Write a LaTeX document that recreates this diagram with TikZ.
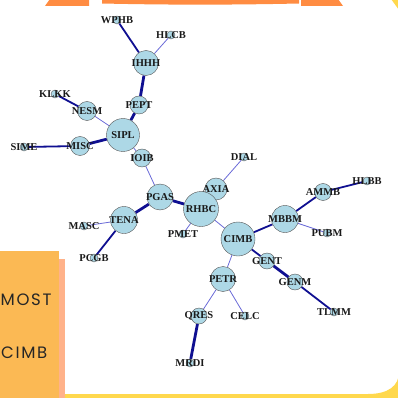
\documentclass[tikz,border=0pt]{standalone}
\usepackage{fontspec}
\setmainfont{Liberation Serif}
\newfontfamily\bannerfont{Poppins}[LetterSpace=10]
\usetikzlibrary{backgrounds}

\definecolor{nodefill}{RGB}{173,216,230}
\definecolor{nodeline}{RGB}{85,85,85}
\definecolor{strongline}{RGB}{15,15,145}
\definecolor{weakline}{RGB}{105,105,215}
\definecolor{topband}{RGB}{255,140,66}
\definecolor{boxorange}{RGB}{251,185,84}
\definecolor{boxshade}{RGB}{255,178,138}
\definecolor{corneryellow}{RGB}{255,216,77}

\begin{document}
\begin{tikzpicture}[x=1pt, y=-1pt,
    stock/.style={circle, draw=nodeline, fill=nodefill, inner sep=0pt, minimum size=#1},
    tag/.style={font=\fontsize{10.5}{11}\selectfont\bfseries, text=black!90, inner sep=0pt},
    weak/.style={weakline, line width=0.8pt},
    medium/.style={strongline, line width=1.8pt},
    strong/.style={strongline, line width=2.8pt}]
    \useasboundingbox (0,0) rectangle (398,398);

    % page decoration
    \fill[topband] (45,6) -- (50,-1) -- (89,-1) -- (89,6) -- cycle;
    \fill[topband] (102,-1) -- (299,-1) -- (299,3.5) .. controls (230,5) and (170,5) .. (102,3.5) -- cycle;
    \fill[topband] (301,-1) -- (338,-1) -- (343,6) -- (301,6) -- cycle;
    \fill[corneryellow] (391,-1) -- (399,-1) -- (399,10) -- cycle;
    \fill[corneryellow] (65,394) rectangle (399,399);
    \fill[corneryellow] (399,372) .. controls (399,386) and (388,394) .. (368,394) -- (368,399) -- (399,399) -- cycle;
    \fill[boxshade] (59,259) rectangle (65,399);
    \fill[boxorange] (-1,251) rectangle (59,399);
    \node[anchor=west, text=black!85, inner sep=0pt] (most) at (0.5,300) {\fontsize{16.5}{18}\bannerfont MOST};
    \node[anchor=west, text=black!85, inner sep=0pt] (cimbtxt) at (1,353) {\fontsize{16.5}{18}\bannerfont CIMB};

    % stocks
    \node[stock=8,  label={[tag]center:WPHB}] (WPHB) at (117,20) {};
    \node[stock=8,  label={[tag]center:HLCB}] (HLCB) at (171,35) {};
    \node[stock=25, label={[tag]center:IHHH}] (IHHH) at (146,63) {};
    \node[stock=18, label={[tag]center:PEPT}] (PEPT) at (139,105) {};
    \node[stock=8,  label={[tag]center:KLKK}] (KLKK) at (55,94) {};
    \node[stock=19, label={[tag]center:NESM}] (NESM) at (87,111) {};
    \node[stock=33, label={[tag]center:SIPL}] (SIPL) at (123,135) {};
    \node[stock=19, label={[tag]center:MISC}] (MISC) at (80,146) {};
    \node[stock=8,  label={[tag]center:SIME}] (SIME) at (24,147) {};
    \node[stock=18, label={[tag]center:IOIB}] (IOIB) at (142,158) {};
    \node[stock=26, label={[tag]center:PGAS}] (PGAS) at (160,197) {};
    \node[stock=8,  label={[tag]center:DIAL}] (DIAL) at (244,157) {};
    \node[stock=22, label={[tag]center:AXIA}] (AXIA) at (216,189) {};
    \node[stock=35, label={[tag]center:RHBC}] (RHBC) at (201,209) {};
    \node[stock=8,  label={[tag]center:PMET}] (PMET) at (183,234) {};
    \node[stock=27, label={[tag]center:TENA}] (TENA) at (124,220) {};
    \node[stock=8,  label={[tag]center:MASC}] (MASC) at (84,226) {};
    \node[stock=8,  label={[tag]center:PCGB}] (PCGB) at (94,258) {};
    \node[stock=34, label={[tag]center:CIMB}] (CIMB) at (238,239) {};
    \node[stock=27, label={[tag]center:MBBM}] (MBBM) at (285,219) {};
    \node[stock=17, label={[tag]center:AMMB}] (AMMB) at (323,192) {};
    \node[stock=8,  label={[tag]center:HLBB}] (HLBB) at (367,181) {};
    \node[stock=8,  label={[tag]center:PUBM}] (PUBM) at (327,233) {};
    \node[stock=16, label={[tag]center:GENT}] (GENT) at (267,261) {};
    \node[stock=16, label={[tag]center:GENM}] (GENM) at (295,282) {};
    \node[stock=8,  label={[tag]center:TLMM}] (TLMM) at (334,312) {};
    \node[stock=25, label={[tag]center:PETR}] (PETR) at (223,279) {};
    \node[stock=16, label={[tag]center:QRES}] (QRES) at (199,316) {};
    \node[stock=8,  label={[tag]center:CELC}] (CELC) at (245,316) {};
    \node[stock=8,  label={[tag]center:MRDI}] (MRDI) at (190,363) {};

    % links
    \begin{scope}[on background layer]
    \path
        (IHHH) edge [medium] (WPHB)
               edge [weak]   (HLCB)
               edge [strong] (PEPT)
        (SIPL) edge [strong] (PEPT)
               edge [weak]   (NESM)
               edge [strong] (MISC)
               edge [weak]   (IOIB)
        (NESM) edge [medium] (KLKK)
        (MISC) edge [medium] (SIME)
        (PGAS) edge [weak]   (IOIB)
               edge [strong] (RHBC)
               edge [strong] (TENA)
        (TENA) edge [weak]   (MASC)
               edge [medium] (PCGB)
        (RHBC) edge [weak]   (AXIA)
               edge [weak]   (PMET)
               edge [weak]   (CIMB)
        (AXIA) edge [weak]   (DIAL)
        (CIMB) edge [medium] (MBBM)
               edge [medium] (GENT)
               edge [weak]   (PETR)
        (MBBM) edge [medium] (AMMB)
               edge [weak]   (PUBM)
        (AMMB) edge [medium] (HLBB)
        (GENT) edge [strong] (GENM)
        (GENM) edge [medium] (TLMM)
        (PETR) edge [weak]   (QRES)
               edge [weak]   (CELC)
        (QRES) edge [strong] (MRDI);
    \end{scope}
\end{tikzpicture}
\end{document}
